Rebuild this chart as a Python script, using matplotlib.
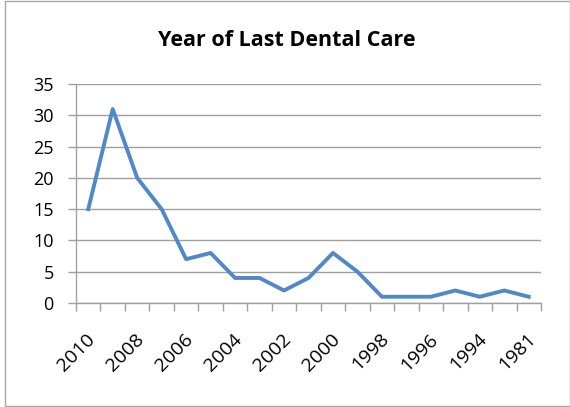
import matplotlib
matplotlib.use("Agg")
import matplotlib.pyplot as plt
from matplotlib.patches import Rectangle
from matplotlib.transforms import ScaledTranslation

years = ["2010", "2009", "2008", "2007", "2006", "2005", "2004", "2003", "2002",
         "2001", "2000", "1999", "1998", "1997", "1996", "1995", "1994", "1990", "1981"]
counts = [15, 31, 20, 15, 7, 8, 4, 4, 2, 4, 8, 5, 1, 1, 1, 2, 1, 2, 1]
yticks = [0, 5, 10, 15, 20, 25, 30, 35]

plt.rcParams['font.family'] = ['Open Sans', 'DejaVu Sans']

W, H = 570, 407
fig = plt.figure(figsize=(W / 100, H / 100), dpi=100)
fig.patches.append(Rectangle((4.5 / W, 1 - 406 / H), (569.5 - 4.5) / W, (406 - 1) / H,
                             transform=fig.transFigure, fill=False,
                             edgecolor='#A6A6A6', linewidth=1.0))

ax = fig.add_axes([76 / W, (H - 303) / H, (541 - 76) / W, (303 - 84) / H])
x = list(range(len(years)))
ax.plot(x, counts, color='#5089C8', linewidth=2.8, solid_joinstyle='round', zorder=3)

ax.set_xlim(-0.5, len(years) - 0.5)
ax.set_ylim(0, 35)
ax.set_yticks(yticks)
ax.set_yticklabels([str(v) for v in yticks])
ax.yaxis.grid(True, color='#A0A0A0', linewidth=1.0)
ax.set_axisbelow(True)

ax.set_xticks([i - 0.5 for i in range(len(years) + 1)])
ax.set_xticklabels([])
ax.set_xticks(x[::2], minor=True)
ax.set_xticklabels(years[::2], minor=True, rotation=45, ha='right', va='top',
                   rotation_mode='anchor', fontsize=14, color='#000000')
ax.tick_params(axis='x', which='minor', length=0, pad=19.5)
ax.tick_params(axis='x', which='major', length=6, color='#A0A0A0', width=1.0)
ax.tick_params(axis='y', length=6, color='#A0A0A0', width=1.0, labelsize=13, pad=10)
shift = ScaledTranslation(-2 / 100, 0, fig.dpi_scale_trans)
for lab in ax.get_xticklabels(minor=True):
    lab.set_transform(lab.get_transform() + shift)

for s in ['top', 'right']:
    ax.spines[s].set_visible(False)
for s in ['left', 'bottom']:
    ax.spines[s].set_color('#A0A0A0')
    ax.spines[s].set_linewidth(1.0)

fig.text((151 + 423) / 2 / W, 1 - 40 / H, "Year of Last Dental Care", ha='center', va='center',
         fontsize=15.5, fontweight='bold')

fig.savefig("out.png", dpi=100)
